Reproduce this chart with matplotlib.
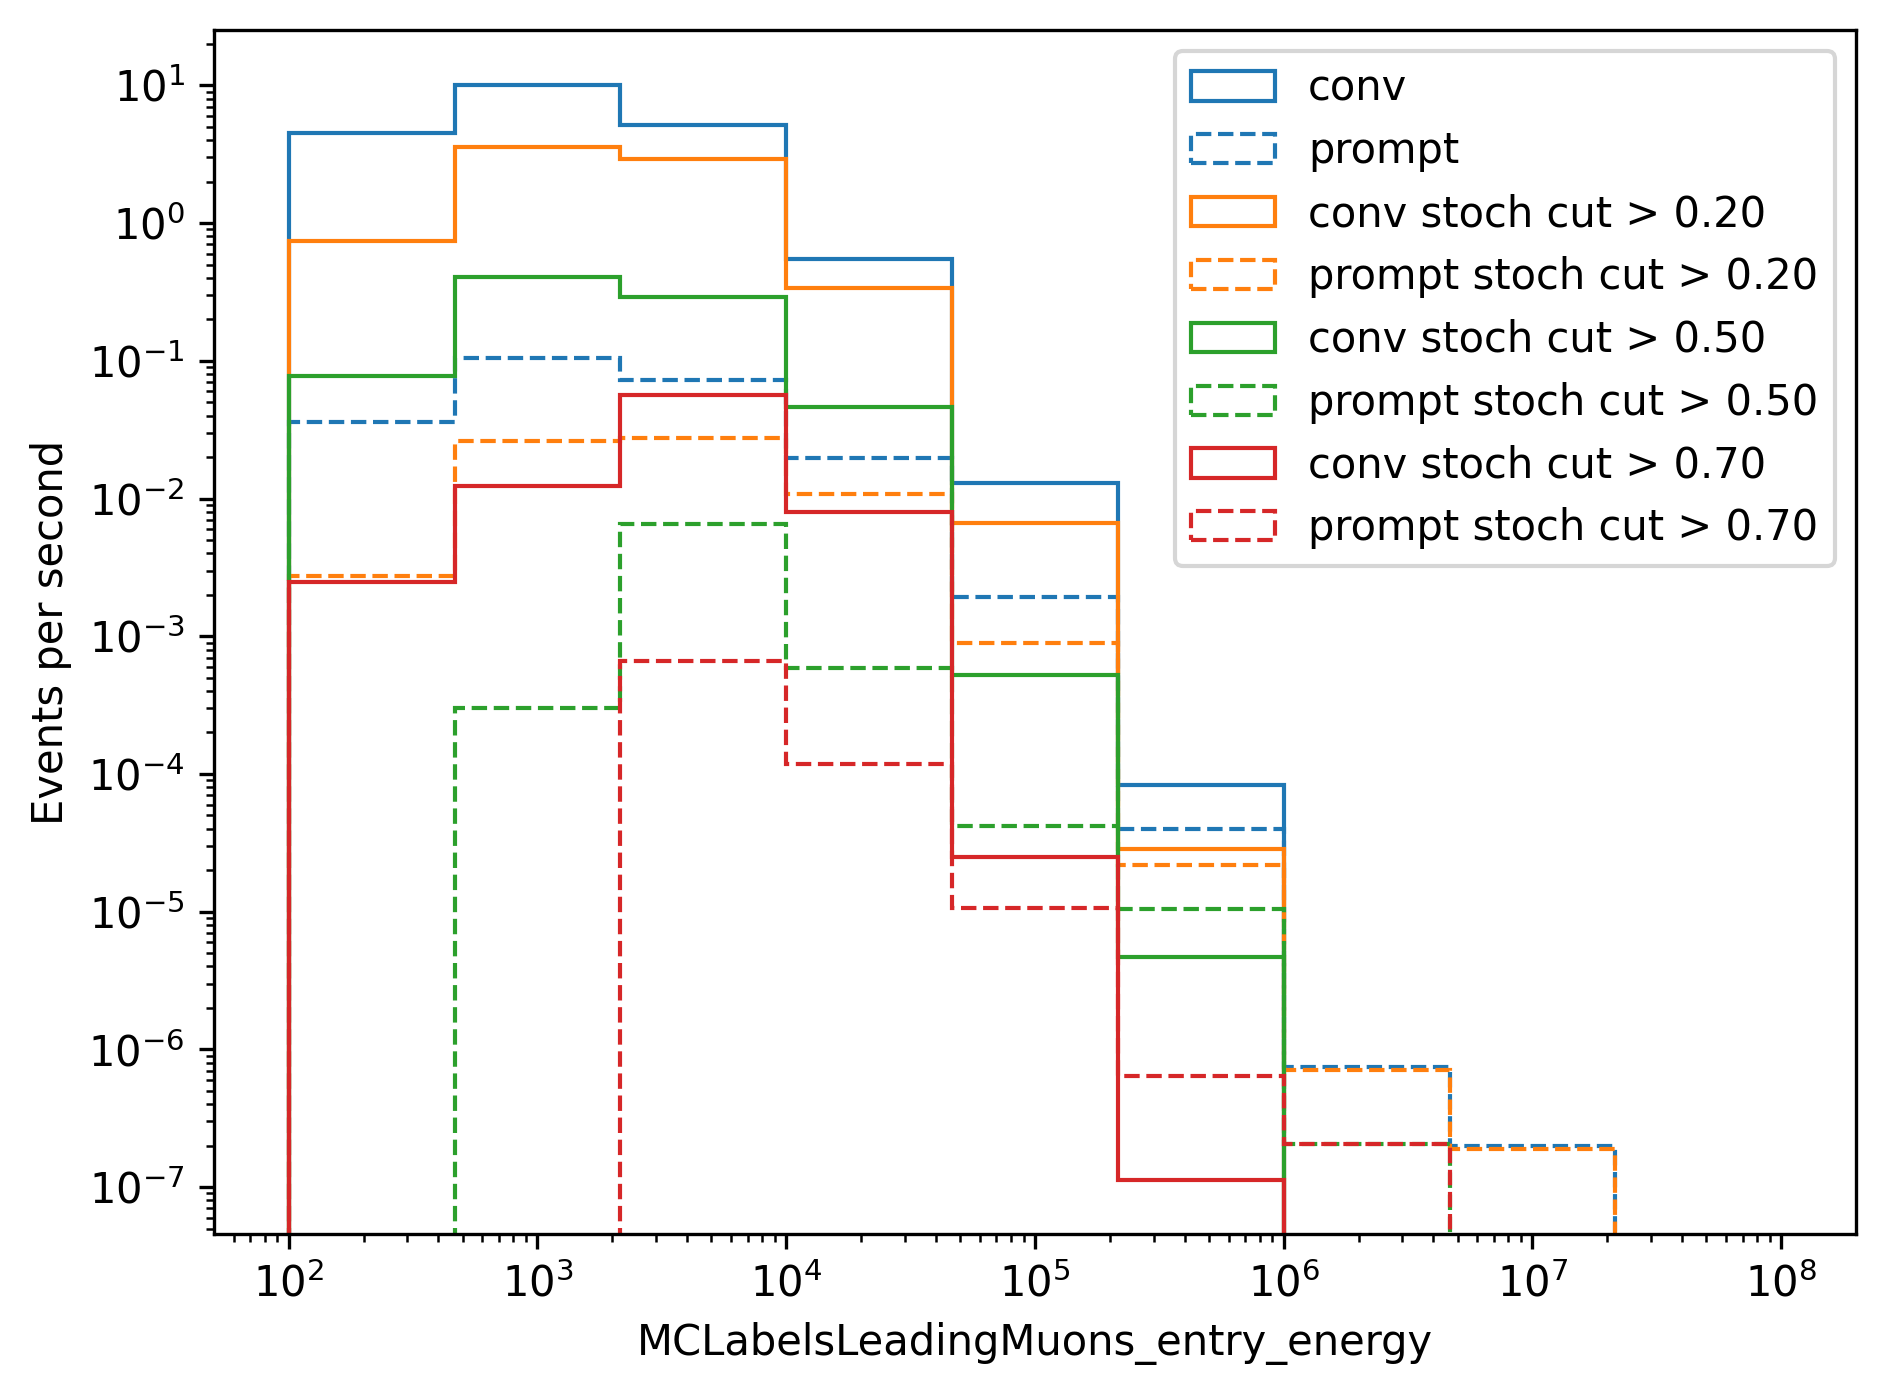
import numpy as np
from matplotlib import pyplot as plt

# energy bins (GeV), 3 per two decades from 1e2 to 1e8
edges = np.logspace(2, 8, 10)

conv = [4.48, 10.0, 5.11, 0.548, 0.0129, 8.3e-5, 0, 0, 0]
prompt = [0.036, 0.104, 0.0724, 0.0197, 0.00194, 4.0e-5, 7.5e-7, 2.0e-7, 0]
conv_02 = [0.744, 3.56, 2.90, 0.34, 0.0066, 2.87e-5, 0, 0, 0]
prompt_02 = [0.00273, 0.0263, 0.0273, 0.01084, 9.0e-4, 2.2e-5, 7.1e-7, 1.9e-7, 0]
conv_05 = [0.0777, 0.407, 0.290, 0.0465, 5.24e-4, 4.66e-6, 0, 0, 0]
prompt_05 = [0, 3.03e-4, 0.00658, 5.86e-4, 4.2e-5, 1.05e-5, 2.07e-7, 0, 0]
conv_07 = [0.00249, 0.01236, 0.0565, 0.0080, 2.5e-5, 1.12e-7, 0, 0, 0]
prompt_07 = [0, 0, 6.64e-4, 1.19e-4, 1.06e-5, 6.4e-7, 2.05e-7, 0, 0]

cuts = ['0.20', '0.50', '0.70']


def plot():
    fig = plt.figure(figsize=(1886 / 300, 1397 / 300), dpi=300)
    ax = fig.add_axes([0.1135, 0.1166, 0.984 - 0.1135, 0.9785 - 0.1166])
    centers = np.sqrt(edges[:-1] * edges[1:])

    series = [
        (conv, prompt, 'C0', 'conv', 'prompt'),
        (conv_02, prompt_02, 'C1', 'conv stoch cut > ' + cuts[0], 'prompt stoch cut > ' + cuts[0]),
        (conv_05, prompt_05, 'C2', 'conv stoch cut > ' + cuts[1], 'prompt stoch cut > ' + cuts[1]),
        (conv_07, prompt_07, 'C3', 'conv stoch cut > ' + cuts[2], 'prompt stoch cut > ' + cuts[2]),
    ]
    for c_vals, p_vals, color, c_label, p_label in series:
        ax.hist(centers, bins=edges, weights=c_vals, histtype='step',
                color=color, label=c_label)
        ax.hist(centers, bins=edges, weights=p_vals, histtype='step',
                color=color, linestyle='--', label=p_label)

    ax.set_xscale('log')
    ax.set_yscale('log')
    ax.set_xlim(10 ** 1.7, 10 ** 8.3)
    ax.set_ylim(4.56e-8, 25.2)
    ax.set_xlabel('MCLabelsLeadingMuons_entry_energy')
    ax.set_ylabel('Events per second')
    ax.legend(loc='upper right')
    fig.savefig('out.png', dpi=300)


if __name__ == '__main__':
    plot()
